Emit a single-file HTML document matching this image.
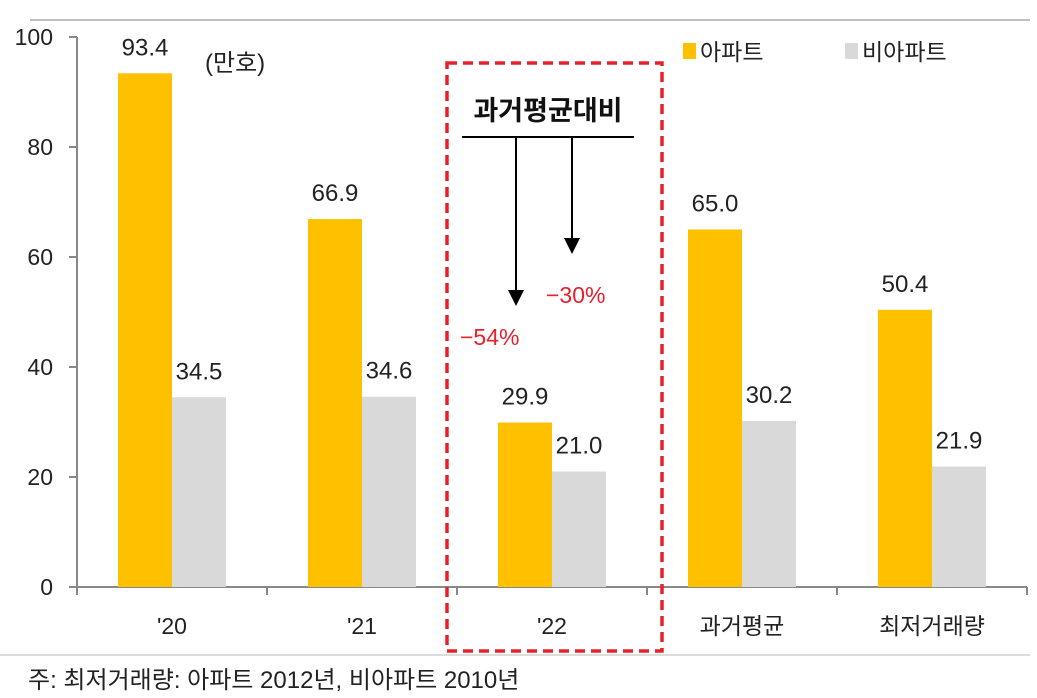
<!DOCTYPE html>
<html><head><meta charset="utf-8"><style>
body{margin:0;background:#fff;}
svg{display:block;font-family:"Liberation Sans","Noto Sans CJK KR",sans-serif;}
</style></head><body>
<svg id="chart" width="1037" height="698" viewBox="0 0 1037 698">
<line x1="30" y1="20" x2="1030" y2="20" stroke="#aaa" stroke-width="1.5"/>
<line x1="0" y1="655" x2="1030" y2="655" stroke="#bbb" stroke-width="1"/>
<g id="axes"></g>
<g id="bars"></g>
<text x="205" y="71" font-size="24" fill="#222">(만호)</text>
<g>
<rect x="683" y="43" width="13" height="16" fill="#FFC000"/>
<text x="700" y="60" font-size="23" fill="#222">아파트</text>
<rect x="845" y="43" width="13" height="16" fill="#D9D9D9"/>
<text x="862" y="60" font-size="23" fill="#222">비아파트</text>
</g>
<rect x="447" y="63" width="215" height="588" fill="none" stroke="#E8202A" stroke-width="3.5" stroke-dasharray="10,6"/>
<text x="548" y="120" font-size="27" font-weight="bold" fill="#111" text-anchor="middle">과거평균대비</text>
<line x1="462" y1="137" x2="634" y2="137" stroke="#000" stroke-width="2"/>
<line x1="516" y1="137" x2="516" y2="292" stroke="#000" stroke-width="2"/>
<polygon points="508,290 524,290 516,306" fill="#000"/>
<line x1="572" y1="137" x2="572" y2="240" stroke="#000" stroke-width="2"/>
<polygon points="564,238 580,238 572,254" fill="#000"/>
<text x="460" y="345" font-size="23" fill="#E8202A">−54%</text>
<text x="546" y="303" font-size="23" fill="#E8202A">−30%</text>
<text x="28" y="688" font-size="24" fill="#222">주: 최저거래량: 아파트 2012년, 비아파트 2010년</text>
</svg>
<script>
const categories = ["'20","'21","'22","과거평균","최저거래량"];
const aptValues = [93.4, 66.9, 29.9, 65.0, 50.4];
const nonAptValues = [34.5, 34.6, 21.0, 30.2, 21.9];
const yTicks = [0,20,40,60,80,100];

const NS="http://www.w3.org/2000/svg";
const x0=77, groupW=190, y0=587, yTop=37, yMax=100, barW=54;
const y=v=>y0-(v/yMax)*(y0-yTop);
const gx=i=>x0+groupW*i+groupW/2;
function mk(tag,attrs,parent,text){const e=document.createElementNS(NS,tag);for(const k in attrs)e.setAttribute(k,attrs[k]);if(text!==undefined)e.textContent=text;parent.appendChild(e);return e;}
const axes=document.getElementById('axes'), bars=document.getElementById('bars');
let e;
e=mk('line',{x1:x0,y1:y(100),x2:x0,y2:y0,stroke:'#888','stroke-width':2},axes);


e=mk('line',{x1:x0,y1:y0,x2:x0+groupW*categories.length,y2:y0,stroke:'#888','stroke-width':2},axes);


yTicks.forEach(t=>{
  e=mk('line',{x1:x0-8,y1:y(t),x2:x0,y2:y(t),stroke:'#888','stroke-width':2},axes);
  
  
  e=mk('text',{x:x0-24,y:y(t)+8,'font-size':23,fill:'#222','text-anchor':'end'},axes,String(t));
  
  
});
for(let i=0;i<=categories.length;i++){
  e=mk('line',{x1:x0+groupW*i,y1:y0,x2:x0+groupW*i,y2:y0+8,stroke:'#888','stroke-width':2},axes);
  
  
}
categories.forEach((c,i)=>{
  const cx=gx(i);
  e=mk('text',{x:cx,y:634,'font-size':23,fill:'#222','text-anchor':'middle'},axes,c);
  
  
  const a=aptValues[i], n=nonAptValues[i];
  e=mk('rect',{x:cx-barW,y:y(a),width:barW,height:y0-y(a),fill:'#FFC000'},bars);
  
  
  e=mk('rect',{x:cx,y:y(n),width:barW,height:y0-y(n),fill:'#D9D9D9'},bars);
  
  
  e=mk('text',{x:cx-barW/2,y:y(a)-18,'font-size':24,fill:'#222','text-anchor':'middle'},bars,a.toFixed(1));
  
  
  e=mk('text',{x:cx+barW/2,y:y(n)-18,'font-size':24,fill:'#222','text-anchor':'middle'},bars,n.toFixed(1));
  
  
});
</script>
</body></html>
